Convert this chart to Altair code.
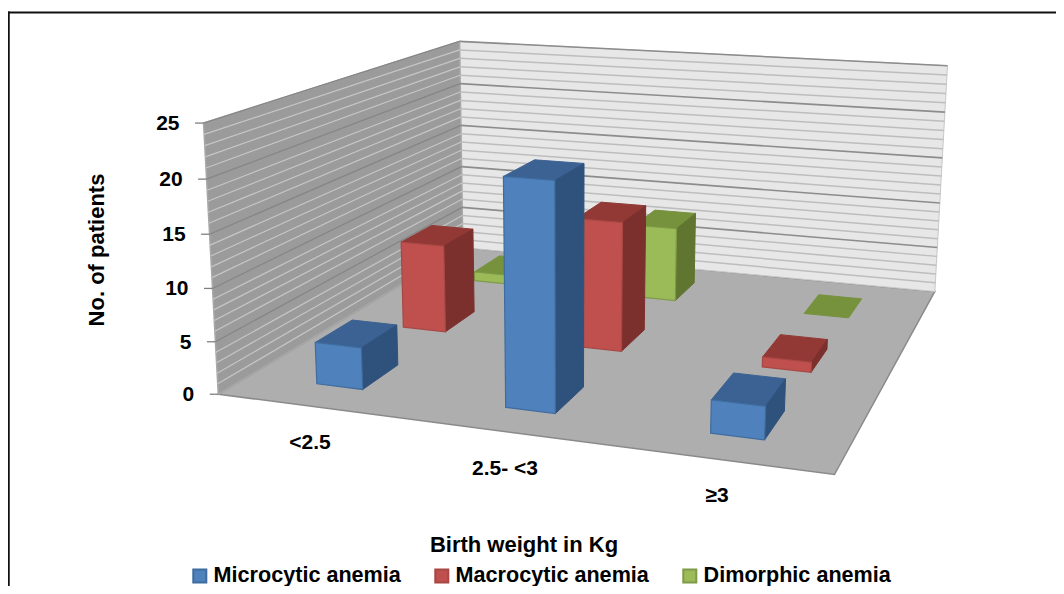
import numpy as np
import altair as alt

categories = ["<2.5", "2.5- <3", "≥3"]
series = ["Microcytic anemia", "Macrocytic anemia", "Dimorphic anemia"]
microcytic = [4, 21, 3]
macrocytic = [9, 13, 1]
dimorphic = [1, 8, 0]
y_ticks = [0, 5, 10, 15, 20, 25]
grid_levels = list(range(26))

front_colors = ["#4f81bd", "#c0504d", "#9bbb59"]
edge_colors = ["#3f6c9f", "#a84744", "#7f9a48"]
top_colors = ["#3b6292", "#923835", "#76923c"]
side_colors = ["#2f527c", "#7c302e", "#5f7530"]
FONT = "Liberation Sans"
OX, OY = 8, 8  # page margin

# camera calibration: world (category, series depth, value) -> page pixel
calib = [
    ((0, 0, 0), (218.3, 393.3)), ((3, 0, 0), (835, 474)), ((3, 3, 0), (934.3, 290.7)),
    ((0, 3, 0), (462.7, 248.3)), ((0, 0, 25), (203.3, 123.3)), ((0, 3, 25), (460, 41)),
    ((3, 3, 25), (947.3, 65)), ((0, 0, 10), (212.5, 287.7)), ((3, 3, 10), (939.5, 203.3)),
    ((1.375, .3, 0), (505, 407)), ((1.625, .3, 0), (555.7, 413.3)), ((1.625, .7, 0), (583.7, 387.7)),
    ((2.375, .3, 0), (710, 433.3)), ((2.625, .7, 0), (785, 411.7)), ((.375, .3, 0), (316.7, 383.3)),
    ((2.625, 2.7, 0), (862.3, 299.3)), ((2.375, 2.3, 0), (804.3, 313.3)), ((.375, 1.3, 0), (403.3, 327.7)),
    ((1.375, .3, 21), (503.3, 176.7)), ((1.625, .3, 21), (555, 181.7)),
]
A, b = [], []
for (X, Y, Z), (u, v) in calib:
    A.append([X, Y, Z, 1, 0, 0, 0, 0, -u * X, -u * Y, -u * Z]); b.append(u)
    A.append([0, 0, 0, 0, X, Y, Z, 1, -v * X, -v * Y, -v * Z]); b.append(v)
p = np.linalg.lstsq(np.array(A, float), np.array(b, float), rcond=None)[0]


def proj(X, Y, Z):
    w = p[8] * X + p[9] * Y + p[10] * Z + 1
    return [float((p[0] * X + p[1] * Y + p[2] * Z + p[3]) / w - OX),
            float((p[4] * X + p[5] * Y + p[6] * Z + p[7]) / w - OY)]


def poly(pts, **props):
    ring = [proj(*q) for q in pts]
    ring.append(ring[0])
    return {"type": "Feature", "properties": props, "geometry": {"type": "Polygon", "coordinates": [ring]}}


def line(pts, **props):
    return {"type": "Feature", "properties": props, "geometry": {"type": "LineString", "coordinates": pts}}


def data(features):
    return alt.Data(values={"type": "FeatureCollection", "features": features},
                    format=alt.DataFormat(property="features", type="json"))


identity = dict(type="identity", scale=1, translate=[0, 0])
F = alt.Fill("properties.fill:N", scale=None)
S = alt.Stroke("properties.stroke:N", scale=None)
W = alt.StrokeWidth("properties.w:Q", scale=None)

# walls and floor
walls = [
    poly([(0, 0, 0), (3, 0, 0), (3, 3, 0), (0, 3, 0)], fill="#aeaeae", stroke="#8a8a8a", w=1.5),
    poly([(0, 3, 0), (3, 3, 0), (3, 3, 25), (0, 3, 25)], fill="#e7e7e7", stroke="#c8c8c8", w=1),
    poly([(0, 0, 0), (0, 3, 0), (0, 3, 25), (0, 0, 25)], fill="#9b9b9b", stroke="#a8a8a8", w=1.5),
]
layers = [alt.Chart(data(walls)).mark_geoshape().encode(fill=F, stroke=S, strokeWidth=W).project(**identity)]

# gridlines: minor first, majors on top
grid = []
for major in (False, True):
    for z in grid_levels:
        if (z % 5 == 0) != major or z == 0:
            continue
        grid.append(line([proj(0, 3, z), proj(3, 3, z)], stroke="#8c8c8c" if major else "#bdbdbd",
                         w=1.6 if major else 1.5))
        grid.append(line([proj(0, 0, z), proj(0, 3, z)], stroke="#858585" if major else "#c6c6c6",
                         w=1.2 if major else 1.2))
# tick marks
for z in y_ticks:
    a = proj(0, 0, z)
    grid.append(line([[a[0] - 8.5, a[1]], a], stroke="#808080", w=1.3))
layers.append(alt.Chart(data(grid)).mark_geoshape(filled=False).encode(stroke=S, strokeWidth=W).project(**identity))

# bars, back series first so the front ones cover them
all_values = [microcytic, macrocytic, dimorphic]
legend = alt.Legend(
    title=None, orient="none", legendX=181, legendY=557, direction="horizontal", columns=3,
    symbolType="square", symbolSize=170, symbolStrokeWidth=2, labelFont=FONT, labelFontWeight="bold",
    labelFontSize=21.6, labelColor="black", columnPadding=30, labelOffset=3, labelLimit=400,
)
fill_ch = alt.Fill("properties.series:N", scale=alt.Scale(domain=series, range=front_colors), legend=legend)
stroke_ch = alt.Stroke("properties.series:N", scale=alt.Scale(domain=series, range=edge_colors), legend=legend)
for si in (2, 1, 0):
    Y0, Y1 = si + .3, si + .7
    shade, front = [], []
    for ci, val in enumerate(all_values[si]):
        X0, X1 = ci + .375, ci + .625
        shade.append(poly([(X0, Y0, val), (X1, Y0, val), (X1, Y1, val), (X0, Y1, val)],
                          fill=top_colors[si], stroke=top_colors[si], w=1))
        if val > 0:
            shade.append(poly([(X1, Y0, 0), (X1, Y1, 0), (X1, Y1, val), (X1, Y0, val)],
                              fill=side_colors[si], stroke=side_colors[si], w=1))
            front.append(poly([(X0, Y0, 0), (X1, Y0, 0), (X1, Y0, val), (X0, Y0, val)], series=series[si]))
    layers.append(alt.Chart(data(shade)).mark_geoshape().encode(fill=F, stroke=S, strokeWidth=W).project(**identity))
    layers.append(alt.Chart(data(front)).mark_geoshape(strokeWidth=1.2)
                  .encode(fill=fill_ch, stroke=stroke_ch).project(**identity))


def text_layer(rows, size, angle=0, align="center"):
    d = alt.Data(values=[{"t": t, "x": x - OX, "y": y - OY} for t, x, y in rows])
    return alt.Chart(d).mark_text(font=FONT, fontWeight="bold", fontSize=size, color="black", angle=angle,
                                  align=align, baseline="middle").encode(
        x=alt.X("x:Q", scale=None), y=alt.Y("y:Q", scale=None), text="t:N")


tick_rows = []
for z in y_ticks:
    a = proj(0, 0, z)
    tick_rows.append((str(z), a[0] + OX - 24, a[1] + OY + 1))
layers.append(text_layer(tick_rows, 21, align="right"))
cat_pos = [(310, 443), (505, 469), (717, 496)]
layers.append(text_layer([(c, x, y) for c, (x, y) in zip(categories, cat_pos)], 21))
layers.append(text_layer([("Birth weight in Kg", 524, 545)], 22))
layers.append(text_layer([("No. of patients", 97, 250)], 22, angle=270))

# image frame: top and left only
frame = alt.Chart(data([
    line([[0, 4.5], [1048, 4.5]], stroke="#111111", w=2),
    line([[0.5, 3.5], [0.5, 586]], stroke="#111111", w=2.5),
])).mark_geoshape(filled=False).encode(stroke=S, strokeWidth=W).project(**identity)
layers.append(frame)

chart = alt.layer(*layers).properties(
    width=1048, height=578, padding=0, autosize=alt.AutoSizeParams(type="none"),
).configure_view(stroke=None)

chart.save("out.html", embed_options={"renderer": "svg", "actions": False})
